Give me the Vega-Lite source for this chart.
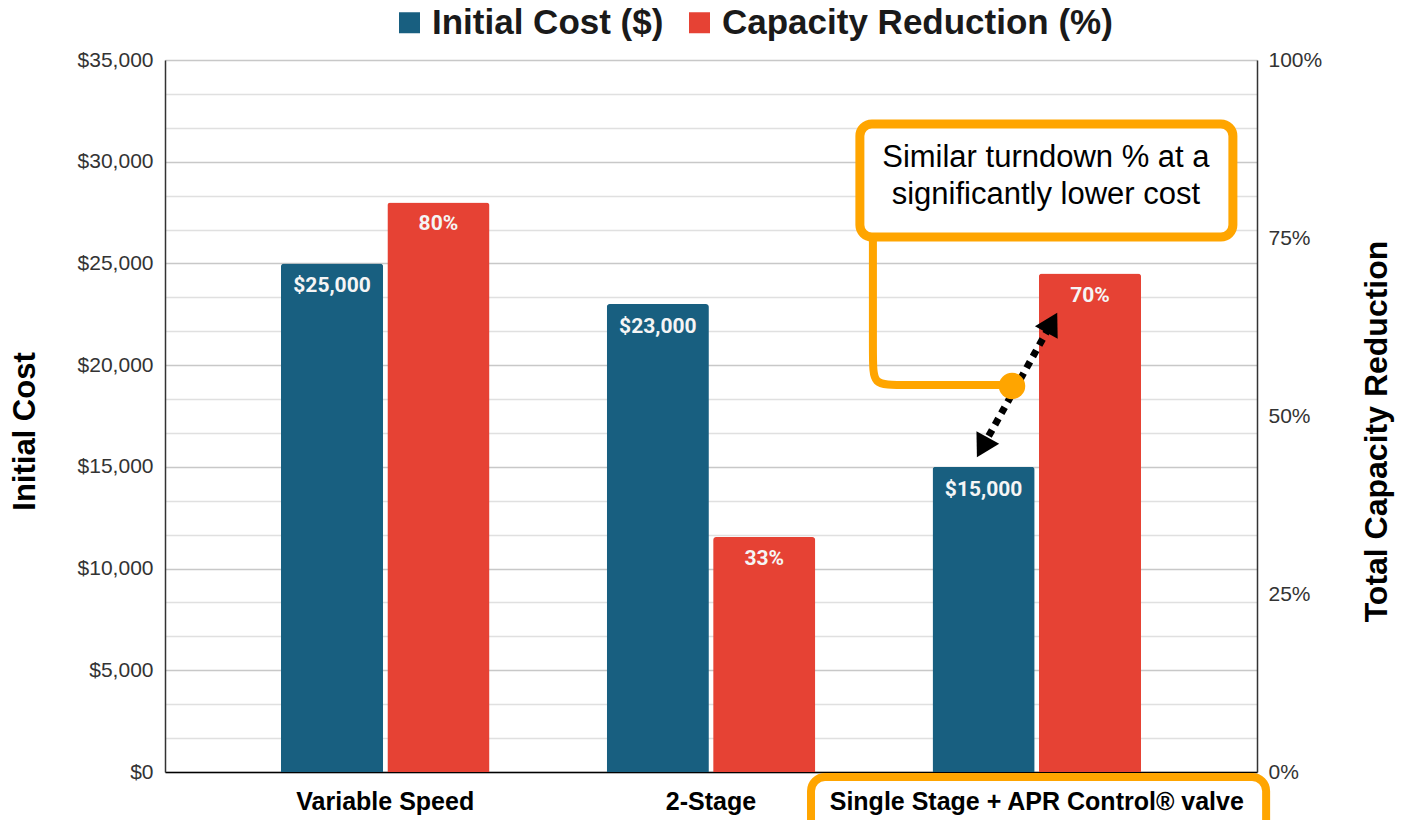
{
  "$schema": "https://vega.github.io/schema/vega-lite/v6.json",
  "width": 1092,
  "height": 712,
  "autosize": {"type": "none"},
  "padding": {"left": 165, "top": 60, "right": 147, "bottom": 48},
  "background": "white",
  "config": {
    "view": {"stroke": null},
    "font": "Liberation Sans",
    "axis": {"labelFont": "Liberation Sans", "titleFont": "Liberation Sans"}
  },
  "datasets": {
    "bars": [
      {"category": "Variable Speed", "series": "Initial Cost ($)", "value": 25000},
      {"category": "2-Stage", "series": "Initial Cost ($)", "value": 23000},
      {"category": "Single Stage + APR Control® valve", "series": "Initial Cost ($)", "value": 15000},
      {"category": "Variable Speed", "series": "Capacity Reduction (%)", "value": 0.80},
      {"category": "2-Stage", "series": "Capacity Reduction (%)", "value": 0.33},
      {"category": "Single Stage + APR Control® valve", "series": "Capacity Reduction (%)", "value": 0.70}
    ],
    "labelbox": [{"x": 2.307, "x2": 3.704, "y": -246, "y2": -3097}],
    "connector": [
      {"i": 0, "x": 2.497, "y": 26299},
      {"i": 1, "x": 2.497, "y": 20253},
      {"i": 2, "x": 2.497, "y": 19024},
      {"i": 3, "x": 2.574, "y": 19024},
      {"i": 4, "x": 2.924, "y": 19024}
    ],
    "dot": [{"x": 2.924, "y": 18975}],
    "arrow": [
      {"i": 0, "x": 2.833, "y": 15956},
      {"i": 1, "x": 3.046, "y": 22091}
    ],
    "headUp": [{"x": 3.046, "y": 22091}],
    "headDown": [{"x": 2.833, "y": 15956}],
    "callout": [{"x": 2.457, "x2": 3.602, "y": 31854, "y2": 26299}],
    "calloutText": [{"x": 3.028, "y": 30182, "label": "Similar turndown % at a\nsignificantly lower cost"}]
  },
  "layer": [
    {
      "data": {"name": "bars"},
      "encoding": {
        "x": {
          "field": "category",
          "type": "nominal",
          "sort": ["Variable Speed", "2-Stage", "Single Stage + APR Control® valve"],
          "scale": {"paddingInner": 0.36, "paddingOuter": 0.356},
          "title": null,
          "axis": {
            "labelFontSize": 25,
            "labelFontWeight": "bold",
            "labelColor": "#000000",
            "labelPadding": 17,
            "labelAngle": 0,
            "labelLimit": 600,
            "ticks": false,
            "tickSize": 0,
            "domainColor": "#000000",
            "domainWidth": 1.5,
            "grid": false
          }
        },
        "xOffset": {
          "field": "series",
          "type": "nominal",
          "scale": {"domain": ["Initial Cost ($)", "Capacity Reduction (%)"], "paddingInner": 0.04, "paddingOuter": 0}
        }
      },
      "layer": [
        {
          "transform": [{"filter": "datum.series === 'Initial Cost ($)'"}],
          "encoding": {
            "y": {
              "field": "value",
              "type": "quantitative",
              "scale": {"domain": [0, 35000], "nice": false},
              "axis": {
                "orient": "left",
                "title": "Initial Cost",
                "values": [0, 1666.667, 3333.333, 5000, 6666.667, 8333.333, 10000, 11666.667, 13333.333, 15000, 16666.667, 18333.333, 20000, 21666.667, 23333.333, 25000, 26666.667, 28333.333, 30000, 31666.667, 33333.333, 35000],
                "labelExpr": "datum.value % 5000 === 0 ? '$' + format(datum.value, ',') : ''",
                "labelOverlap": false,
                "labelFlush": false,
                "grid": true,
                "gridColor": {"condition": {"test": "datum.value % 5000 === 0", "value": "#c8c8c8"}, "value": "#e0e0e0"},
                "gridWidth": 1.5,
                "ticks": false,
                "tickSize": 0,
                "labelPadding": 12,
                "labelFontSize": 21,
                "labelColor": "#333333",
                "domain": true,
                "domainColor": "#333333",
                "domainWidth": 1.5,
                "titleFontSize": 31,
                "titleFontWeight": "bold",
                "titleColor": "#000000",
                "titleX": -140,
                "titleY": 371,
                "titleAngle": 270,
                "titleBaseline": "middle",
                "titleAlign": "center"
              }
            }
          },
          "layer": [
            {
              "mark": {"type": "bar", "cornerRadiusTopLeft": 3, "cornerRadiusTopRight": 3},
              "encoding": {
                "color": {
                  "field": "series",
                  "type": "nominal",
                  "scale": {"domain": ["Initial Cost ($)", "Capacity Reduction (%)"], "range": ["#185f80", "#e64234"]},
                  "legend": {
                    "orient": "none",
                    "legendX": 227,
                    "legendY": -55,
                    "direction": "horizontal",
                    "title": null,
                    "symbolType": "square",
                    "symbolSize": 441,
                    "symbolStrokeWidth": 0,
                    "labelFontSize": 35,
                    "labelFontWeight": "bold",
                    "labelColor": "#1a1a1a",
                    "labelLimit": 600,
                    "labelOffset": 5,
                    "columnPadding": 18,
                    "padding": 0
                  }
                }
              }
            },
            {
              "mark": {"type": "text", "dy": 23, "baseline": "middle", "font": "Roboto", "fontWeight": "bold", "fontSize": 21, "color": "#f5f5f5"},
              "encoding": {"text": {"field": "value", "type": "quantitative", "format": "$,.0f"}}
            }
          ]
        },
        {
          "transform": [{"filter": "datum.series === 'Capacity Reduction (%)'"}],
          "encoding": {
            "y": {
              "field": "value",
              "type": "quantitative",
              "scale": {"domain": [0, 1], "nice": false},
              "axis": {
                "orient": "right",
                "title": "Total Capacity Reduction",
                "values": [0, 0.25, 0.5, 0.75, 1],
                "format": ".0%",
                "labelFlush": false,
                "labelOverlap": false,
                "grid": false,
                "ticks": false,
                "tickSize": 0,
                "labelPadding": 11,
                "labelFontSize": 21,
                "labelColor": "#333333",
                "domain": true,
                "domainColor": "#333333",
                "domainWidth": 1.5,
                "titleFontSize": 32,
                "titleFontWeight": "bold",
                "titleColor": "#000000",
                "titleX": 119,
                "titleY": 371,
                "titleAngle": 270,
                "titleBaseline": "middle",
                "titleAlign": "center"
              }
            }
          },
          "layer": [
            {
              "mark": {"type": "bar", "cornerRadiusTopLeft": 3, "cornerRadiusTopRight": 3},
              "encoding": {
                "color": {
                  "field": "series",
                  "type": "nominal",
                  "scale": {"domain": ["Initial Cost ($)", "Capacity Reduction (%)"], "range": ["#185f80", "#e64234"]},
                  "legend": {
                    "orient": "none",
                    "legendX": 227,
                    "legendY": -55,
                    "direction": "horizontal",
                    "title": null,
                    "symbolType": "square",
                    "symbolSize": 441,
                    "symbolStrokeWidth": 0,
                    "labelFontSize": 35,
                    "labelFontWeight": "bold",
                    "labelColor": "#1a1a1a",
                    "labelLimit": 600,
                    "labelOffset": 5,
                    "columnPadding": 18,
                    "padding": 0
                  }
                }
              }
            },
            {
              "mark": {"type": "text", "dy": 22, "baseline": "middle", "font": "Roboto", "fontWeight": "bold", "fontSize": 21, "color": "#f5f5f5"},
              "encoding": {"text": {"field": "value", "type": "quantitative", "format": ".0%"}}
            }
          ]
        }
      ],
      "resolve": {"scale": {"y": "independent"}}
    },
    {
      "encoding": {
        "x": {"field": "x", "type": "quantitative", "scale": {"domain": [0.324, 3.676], "nice": false, "zero": false}, "axis": null},
        "y": {"field": "y", "type": "quantitative", "scale": {"domain": [0, 35000], "nice": false, "zero": false}, "axis": null}
      },
      "layer": [
        {
          "data": {"name": "labelbox"},
          "mark": {"type": "rect", "fill": "transparent", "stroke": "#FFA500", "strokeWidth": 8, "cornerRadius": 14, "clip": false},
          "encoding": {"x2": {"field": "x2"}, "y2": {"field": "y2"}}
        },
        {
          "data": {"name": "connector"},
          "mark": {"type": "line", "color": "#FFA500", "strokeWidth": 8, "interpolate": "basis", "strokeCap": "round"},
          "encoding": {"order": {"field": "i", "type": "quantitative"}}
        },
        {
          "data": {"name": "arrow"},
          "mark": {"type": "line", "color": "#000000", "strokeWidth": 7, "strokeDash": [7, 6], "strokeCap": "butt"},
          "encoding": {"order": {"field": "i", "type": "quantitative"}}
        },
        {
          "data": {"name": "headUp"},
          "mark": {"type": "point", "shape": "triangle-up", "angle": 29, "size": 676, "filled": true, "color": "#000000", "opacity": 1, "strokeWidth": 2, "strokeJoin": "round"}
        },
        {
          "data": {"name": "headDown"},
          "mark": {"type": "point", "shape": "triangle-up", "angle": 209, "size": 676, "filled": true, "color": "#000000", "opacity": 1, "strokeWidth": 2, "strokeJoin": "round"}
        },
        {
          "data": {"name": "dot"},
          "mark": {"type": "point", "shape": "circle", "size": 700, "filled": true, "color": "#FFA500", "opacity": 1}
        },
        {
          "data": {"name": "callout"},
          "mark": {"type": "rect", "fill": "#ffffff", "stroke": "#FFA500", "strokeWidth": 9, "cornerRadius": 12},
          "encoding": {"x2": {"field": "x2"}, "y2": {"field": "y2"}}
        },
        {
          "data": {"name": "calloutText"},
          "mark": {"type": "text", "align": "center", "baseline": "middle", "lineBreak": "\n", "lineHeight": 37, "fontSize": 31, "font": "Liberation Sans", "color": "#000000"},
          "encoding": {"text": {"field": "label"}}
        }
      ]
    }
  ],
  "resolve": {"scale": {"x": "independent", "y": "independent"}}
}
